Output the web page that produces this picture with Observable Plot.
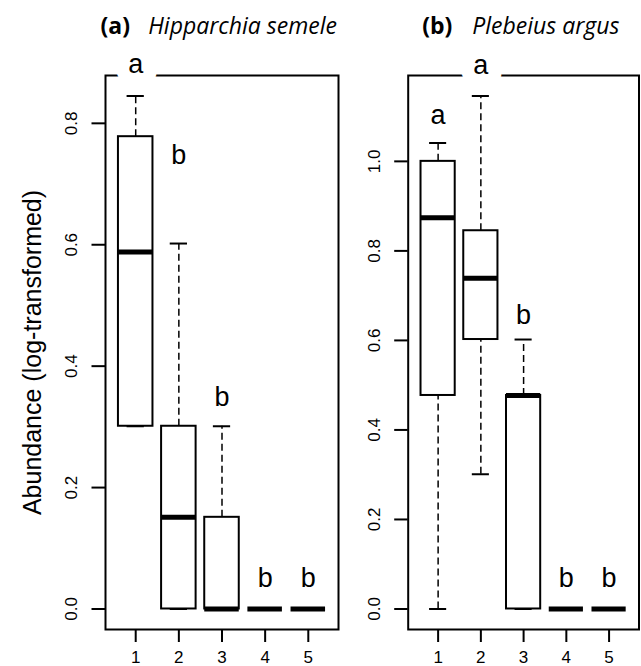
<!DOCTYPE html>
<html>
<head>
<meta charset="utf-8">
<script src="https://cdn.jsdelivr.net/npm/d3@7"></script>
<script src="https://cdn.jsdelivr.net/npm/@observablehq/plot@0.6"></script>
<style>
  body { margin: 0; background: #fff; }
  #wrap { display: flex; width: 641px; height: 666px; }
  #wrap svg { display: block; }
</style>
</head>
<body>
<div id="wrap"></div>
<script>
// ---- data ----
const groups = [1, 2, 3, 4, 5];

// (a) Hipparchia semele
const semeleMin    = [0.301, 0.000, 0.000, 0, 0];
const semeleQ1     = [0.301, 0.000, 0.000, 0, 0];
const semeleMedian = [0.588, 0.151, 0.000, 0, 0];
const semeleQ3     = [0.778, 0.301, 0.151, 0, 0];
const semeleMax    = [0.845, 0.602, 0.301, 0, 0];
const semeleLetters = ["a", "b", "b", "b", "b"];
const semeleLetterY = [0.8825, 0.733, 0.334, 0.036, 0.036];
const semeleTicks = [0, 0.2, 0.4, 0.6, 0.8];

// (b) Plebeius argus
const argusMin    = [0.000, 0.301, 0.000, 0, 0];
const argusQ1     = [0.477, 0.602, 0.000, 0, 0];
const argusMedian = [0.874, 0.739, 0.477, 0, 0];
const argusQ3     = [1.000, 0.845, 0.477, 0, 0];
const argusMax    = [1.041, 1.146, 0.602, 0, 0];
const argusLetters = ["a", "a", "b", "b", "b"];
const argusLetterY = [1.084, 1.196, 0.637, 0.048, 0.048];
const argusTicks = [0, 0.2, 0.4, 0.6, 0.8, 1.0];

const yTitle = "Abundance (log-transformed)";

const SANS = "'Liberation Sans', Arial, Helvetica, sans-serif";
const TITLE_FONT = "'Open Sans', 'DejaVu Sans', sans-serif";

function panel(o) {
  const rows = groups.map((g, i) => ({
    g, min: o.mins[i], q1: o.q1s[i], med: o.meds[i], q3: o.q3s[i], max: o.maxs[i],
    letter: o.letters[i], ly: o.letterY[i]
  }));
  const lo = Math.min(d3.min(o.mins), 0), hi = d3.max(o.maxs);
  const pad = 0.04 * (hi - lo);
  const yDomain = [lo - pad, hi + pad];
  const xPad = 0.04 * groups.length;
  const xDomain = [0.5 - xPad, groups.length + 0.5 + xPad];
  const hb = 0.4, hc = 0.2;

  const marks = [
    Plot.ruleX(rows, {x: "g", y1: "q3", y2: "max", stroke: "black", strokeWidth: 1.5, strokeDasharray: "7,4"}),
    Plot.ruleX(rows, {x: "g", y1: "min", y2: "q1", stroke: "black", strokeWidth: 1.5, strokeDasharray: "7,4"}),
    Plot.ruleY(rows, {y: "max", x1: d => d.g - hc, x2: d => d.g + hc, stroke: "black", strokeWidth: 2}),
    Plot.ruleY(rows, {y: "min", x1: d => d.g - hc, x2: d => d.g + hc, stroke: "black", strokeWidth: 2}),
    Plot.rect(rows, {x1: d => d.g - hb, x2: d => d.g + hb, y1: "q1", y2: "q3", fill: "white", stroke: "black", strokeWidth: 2}),
    Plot.ruleY(rows, {y: "med", x1: d => d.g - hb, x2: d => d.g + hb, stroke: "black", strokeWidth: 5}),
    Plot.frame({stroke: "black", strokeWidth: 2}),
    // letters sitting on the top border get a white background
    Plot.text(rows.filter(d => d.ly >= yDomain[1]), {x: "g", y: "ly", text: "letter", fill: "black", stroke: "white", strokeWidth: 26, fontSize: 27, fontFamily: SANS, lineAnchor: "bottom"}),
    Plot.text(rows.filter(d => d.ly < yDomain[1]), {x: "g", y: "ly", text: "letter", fill: "black", fontSize: 27, fontFamily: SANS, lineAnchor: "bottom"}),
    Plot.axisX({ticks: groups, tickSize: 13, stroke: "black", strokeWidth: 2, tickFormat: () => "", label: null}),
    Plot.text(groups, {x: d => d, text: d => String(d), frameAnchor: "bottom", lineAnchor: "bottom", dy: 33, fontSize: 17, fontFamily: SANS, fill: "black"}),
    Plot.axisY({ticks: o.ticks, tickSize: 13.5, stroke: "black", strokeWidth: 2, tickFormat: () => "", label: null}),
    Plot.text(o.ticks, {y: d => d, text: d => d.toFixed(1), frameAnchor: "left", textAnchor: "middle", lineAnchor: "middle", dx: -33.5, rotate: -90, fontSize: 17, fontFamily: SANS, fill: "black"}),
    Plot.text([o.tag], {text: d => d, frameAnchor: "top-left", dx: o.tagDx, dy: -42, textAnchor: "start", lineAnchor: "bottom", fontWeight: "bold", fontFamily: TITLE_FONT, fontSize: 23, fill: "black"}),
    Plot.text([o.species], {text: d => d, frameAnchor: "top-left", dx: o.speciesDx, dy: -42, textAnchor: "start", lineAnchor: "bottom", fontStyle: "italic", fontFamily: TITLE_FONT, fontSize: 23, fill: "black"})
  ];
  if (o.yLabel) {
    marks.push(Plot.text([o.yLabel], {text: d => d, frameAnchor: "left", textAnchor: "middle", lineAnchor: "middle", dx: -73, rotate: -90, fontSize: 25, fontFamily: SANS, fill: "black"}));
  }
  return Plot.plot({
    width: o.width,
    height: 666,
    marginLeft: o.marginLeft,
    marginRight: o.marginRight,
    marginTop: 75,
    marginBottom: 37,
    style: {fontFamily: SANS, background: "white", color: "black", overflow: "visible"},
    x: {type: "linear", domain: xDomain},
    y: {type: "linear", domain: yDomain},
    marks
  });
}

const wrap = document.getElementById("wrap");
wrap.appendChild(panel({
  width: 345, marginLeft: 105, marginRight: 7,
  mins: semeleMin, q1s: semeleQ1, meds: semeleMedian, q3s: semeleQ3, maxs: semeleMax,
  letters: semeleLetters, letterY: semeleLetterY, ticks: semeleTicks,
  tag: "(a)", species: "Hipparchia semele", tagDx: -5, speciesDx: 42.7, yLabel: yTitle
}));
wrap.appendChild(panel({
  width: 296, marginLeft: 62.7, marginRight: 2.5,
  mins: argusMin, q1s: argusQ1, meds: argusMedian, q3s: argusQ3, maxs: argusMax,
  letters: argusLetters, letterY: argusLetterY, ticks: argusTicks,
  tag: "(b)", species: "Plebeius argus", tagDx: 14, speciesDx: 64, yLabel: null
}));
</script>
</body>
</html>
